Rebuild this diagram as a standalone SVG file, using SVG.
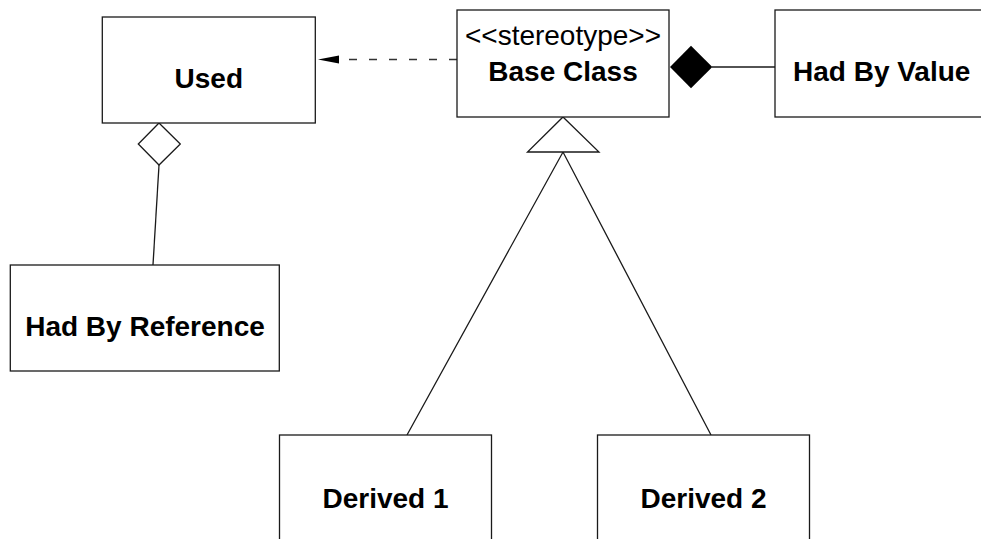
<svg xmlns="http://www.w3.org/2000/svg" width="981" height="539" viewBox="0 0 981 539">
  <style>
    .box { fill: #fff; stroke: #1a1a1a; stroke-width: 1.3; }
    .lbl { font-family: "Liberation Sans", Arial, sans-serif; font-size: 28px; font-weight: bold; fill: #000; text-anchor: middle; }
    .stereo { font-family: "Liberation Sans", Arial, sans-serif; font-size: 28px; fill: #000; text-anchor: middle; }
    .edge { fill: none; stroke: #1a1a1a; stroke-width: 1.3; }
    .dash { fill: none; stroke: #333; stroke-width: 1.4; stroke-dasharray: 8 12; }
  </style>
  <rect width="981" height="539" fill="#fff"/>

  <!-- connectors -->
  <g id="connectors">
    <!-- dependency: Base Class to Used -->
    <line class="dash" x1="457" y1="59.5" x2="339" y2="59.5"/>
    <polygon points="318,59.5 339,55.5 339,63.5" fill="#000"/>
    <!-- aggregation: Had By Reference to Used -->
    <line class="edge" x1="159" y1="165" x2="153" y2="265"/>
    <polygon points="159,123 180.3,144 159,165 138.3,144" fill="#fff" stroke="#1a1a1a" stroke-width="1.3"/>
    <!-- composition: Had By Value to Base Class -->
    <line class="edge" x1="712" y1="67" x2="775" y2="67"/>
    <polygon points="670,67 691,45.7 712.3,67 691,88.3" fill="#000"/>
    <!-- generalization: Derived 1 / Derived 2 to Base Class -->
    <polyline class="edge" points="407,435 563,152 711,435"/>
    <polygon points="563,117 599,152 527.5,152" fill="#fff" stroke="#1a1a1a" stroke-width="1.3"/>
  </g>

  <g id="used">
    <rect class="box" x="102.3" y="17" width="213" height="106"/>
    <text class="lbl" x="208.8" y="88">Used</text>
  </g>

  <g id="base-class">
    <rect class="box" x="457" y="10" width="212" height="107"/>
    <text class="stereo" x="563" y="45">&lt;&lt;stereotype&gt;&gt;</text>
    <text class="lbl" x="563" y="81">Base Class</text>
  </g>

  <g id="had-by-value">
    <rect class="box" x="775" y="10" width="213" height="107"/>
    <text class="lbl" x="881.7" y="81">Had By Value</text>
  </g>

  <g id="had-by-reference">
    <rect class="box" x="10.3" y="265" width="269" height="106"/>
    <text class="lbl" x="145" y="336">Had By Reference</text>
  </g>

  <g id="derived-1">
    <rect class="box" x="279.5" y="435" width="212" height="106"/>
    <text class="lbl" x="385.5" y="508">Derived 1</text>
  </g>

  <g id="derived-2">
    <rect class="box" x="597.5" y="435" width="212" height="106"/>
    <text class="lbl" x="703.5" y="508">Derived 2</text>
  </g>
</svg>
